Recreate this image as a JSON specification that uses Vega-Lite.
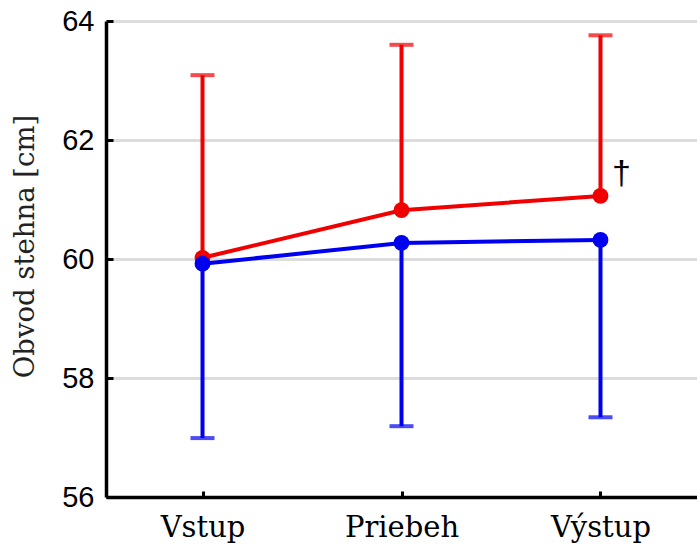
{
  "$schema": "https://vega.github.io/schema/vega-lite/v6.json",
  "autosize": {"type": "none"},
  "padding": {"left": 106, "top": 21, "right": 0, "bottom": 50},
  "width": 591,
  "height": 476,
  "background": "white",
  "config": {"view": {"stroke": null}},
  "data": {"values": [
    {"phase": "Vstup", "group": "A", "mean": 60.02, "bound": 63.09},
    {"phase": "Priebeh", "group": "A", "mean": 60.82, "bound": 63.6},
    {"phase": "Výstup", "group": "A", "mean": 61.06, "bound": 63.76},
    {"phase": "Vstup", "group": "B", "mean": 59.92, "bound": 56.99},
    {"phase": "Priebeh", "group": "B", "mean": 60.27, "bound": 57.19},
    {"phase": "Výstup", "group": "B", "mean": 60.32, "bound": 57.34}
  ]},
  "encoding": {
    "x": {
      "field": "phase", "type": "nominal", "sort": ["Vstup", "Priebeh", "Výstup"],
      "scale": {"type": "point", "padding": 0.485},
      "axis": {
        "title": null, "labelAngle": 0, "grid": false,
        "labelFont": "DejaVu Serif", "labelFontSize": 29, "labelColor": "black",
        "labelPadding": 22, "labelBaseline": "top",
        "domainColor": "black", "domainWidth": 3.5,
        "tickColor": "black", "tickWidth": 3, "tickSize": -6
      }
    },
    "color": {
      "field": "group", "type": "nominal",
      "scale": {"domain": ["A", "B"], "range": ["#f00000", "#0000f0"]},
      "legend": null
    }
  },
  "layer": [
    {
      "mark": {"type": "rule", "strokeWidth": 4},
      "encoding": {
        "y": {
          "field": "mean", "type": "quantitative",
          "scale": {"domain": [56, 64], "nice": false, "zero": false},
          "axis": {
            "values": [56, 58, 60, 62, 64], "format": "d",
            "title": "Obvod stehna [cm]",
            "titleFont": "DejaVu Serif", "titleFontSize": 27.5, "titleFontWeight": "normal", "titleColor": "#222222",
            "titleX": -81, "titleY": 225, "titleAngle": -90, "titleAlign": "center", "titleBaseline": "middle",
            "labelFont": "Liberation Sans", "labelFontSize": 29, "labelColor": "black", "labelPadding": 19,
            "grid": true, "gridColor": "#dcdcdc", "gridWidth": 3,
            "domainColor": "black", "domainWidth": 3.5,
            "tickColor": "black", "tickWidth": 3, "tickSize": -7
          }
        },
        "y2": {"field": "bound"}
      }
    },
    {
      "mark": {"type": "tick", "thickness": 4, "size": 24},
      "encoding": {"y": {"field": "bound", "type": "quantitative"}}
    },
    {
      "mark": {"type": "line", "strokeWidth": 4},
      "encoding": {"y": {"field": "mean", "type": "quantitative"}}
    },
    {
      "mark": {"type": "point", "filled": true, "opacity": 1, "size": 250},
      "encoding": {"y": {"field": "mean", "type": "quantitative"}}
    },
    {
      "transform": [{"filter": "datum.group == 'A' && datum.phase == 'Výstup'"}],
      "mark": {"type": "text", "text": "†", "font": "Liberation Sans", "fontSize": 34, "dx": 21, "dy": -22, "color": "black"},
      "encoding": {"y": {"field": "mean", "type": "quantitative"}, "color": {"value": "black"}}
    }
  ]
}
